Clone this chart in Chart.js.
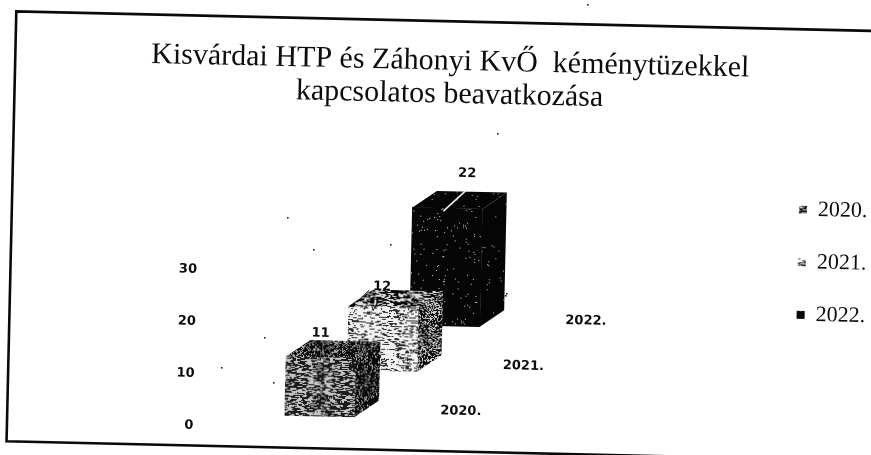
<!DOCTYPE html>
<html>
<head>
<meta charset="utf-8">
<style>html,body{margin:0;padding:0;background:#fff}#w{width:871px;height:455px}</style>
<script src="https://cdn.jsdelivr.net/npm/chart.js@4"></script>
</head>
<body>
<div id="w"><canvas id="c" width="871" height="455"></canvas></div>
<script>
const titleLines = ['Kisvárdai HTP és Záhonyi KvŐ  kéménytüzekkel', 'kapcsolatos beavatkozása'];
const years = [2020, 2021, 2022];
const seriesLabels = ['2020.', '2021.', '2022.'];
const values = [11, 12, 22];
const depthBase = [2.3, 11, 19.7];
const tickLabels = [0, 10, 20, 30];

const DEG = 1.3 * Math.PI / 180, CX = 435, CY = 228;
const DX = 24, DY = -17;
const FONT_AXIS = '"DejaVu Sans"';
const INK = '#0c0c0c';

function hash(i, j) {
  const s = Math.sin(i * 12.9898 + j * 78.233 + 0.37) * 43758.5453;
  return s - Math.floor(s);
}
// deterministic scanned-halftone tile: streak = longest run, ink = dark share
function tile(ink, streak, dark, light, seed) {
  const W = 128, H = 96;
  const cv = document.createElement('canvas');
  cv.width = W; cv.height = H;
  const g = cv.getContext('2d');
  g.fillStyle = light; g.fillRect(0, 0, W, H);
  g.fillStyle = dark;
  for (let y = 0; y < H; y++) {
    let x = 0, n = 0;
    while (x < W) {
      const run = 1 + Math.floor(hash(x + seed * 17, y * 3 + n) * streak);
      if (hash(x * 0.73 + seed, y * 1.91 + n * 5.1) < ink) g.fillRect(x, y, run, 1);
      x += run; n++;
    }
  }
  return g.createPattern(cv, 'repeat');
}
const faces = [
  { front: tile(0.55, 4, '#1a1a1a', '#c4c4c4', 1), side: tile(0.80, 1, '#0a0a0a', '#bdbdbd', 2), top: tile(0.72, 1, '#0a0a0a', '#b5b5b5', 3) },
  { front: tile(0.30, 4, '#2a2a2a', '#f2f2f2', 4), side: tile(0.62, 1, '#0a0a0a', '#d4d4d4', 5), top: tile(0.52, 4, '#0a0a0a', '#dcdcdc', 6) },
  { front: tile(0.985, 1, '#060606', '#d0d0d0', 7), side: tile(0.995, 1, '#050505', '#c0c0c0', 8), top: tile(0.99, 1, '#050505', '#c0c0c0', 9) }
];
const specks = [[587,4],[497,133],[287,217],[313,249],[390,244],[264,337],[273,382],[221,367],[505,295],[506,293]];

const scene = {
  id: 'scene',
  afterLayout(chart) {
    const l = chart.legend;
    const w = l.right - l.left, h = l.bottom - l.top;
    l.left = 768; l.right = 768 + w; l.top = 160; l.bottom = 160 + h;
  },
  beforeDraw(chart) {
    const c = chart.ctx;
    c.save();
    c.fillStyle = '#fff';
    c.fillRect(0, 0, chart.width, chart.height);
    c.translate(CX, CY); c.rotate(DEG); c.translate(-CX, -CY);
    c.strokeStyle = '#0a0a0a';
    c.lineWidth = 2.6;
    c.beginPath();
    c.moveTo(900, 21); c.lineTo(11.5, 21); c.lineTo(11.5, 451); c.lineTo(900, 451);
    c.stroke();
  },
  afterDatasetDraw(chart, args) {
    const el = args.meta.data[0], f = faces[args.index], c = chart.ctx;
    const r = el.x + el.width / 2, l = el.x - el.width / 2, t = el.y, b = el.base;
    c.save();
    c.fillStyle = f.side;
    c.beginPath();
    c.moveTo(r, t); c.lineTo(r + DX, t + DY); c.lineTo(r + DX, b + DY); c.lineTo(r, b);
    c.closePath(); c.fill();
    c.fillStyle = f.top;
    c.beginPath();
    c.moveTo(l, t); c.lineTo(l + DX, t + DY); c.lineTo(r + DX, t + DY); c.lineTo(r, t);
    c.closePath(); c.fill();
    c.restore();
  },
  afterDraw(chart) {
    const c = chart.ctx;
    const valueOffset = [[-1, -24], [-2, -20], [19, -35]];
    c.fillStyle = INK;
    c.font = 'bold 13px ' + FONT_AXIS;
    c.textAlign = 'center';
    c.textBaseline = 'middle';
    chart.data.datasets.forEach((d, i) => {
      const el = chart.getDatasetMeta(i).data[0];
      c.fillText(String(values[i]), el.x + valueOffset[i][0], el.y + valueOffset[i][1]);
      c.fillText(seriesLabels[i], el.x + 141, el.base - 8);
    });
    const e3 = chart.getDatasetMeta(2).data[0];
    c.strokeStyle = '#eee';
    c.lineWidth = 1.6;
    c.beginPath();
    c.moveTo(e3.x + 18, e3.y - 18);
    c.lineTo(e3.x - 4, e3.y + 3);
    c.stroke();
    const e2 = chart.getDatasetMeta(1).data[0];
    c.strokeStyle = '#222';
    c.lineWidth = 1;
    c.beginPath();
    c.moveTo(e2.x - 15, e2.y - 16);
    c.lineTo(e2.x - 25, e2.y - 6);
    c.stroke();
    c.restore();
    c.fillStyle = '#222';
    specks.forEach(p => c.fillRect(p[0], p[1], 1.6, 1.6));
  }
};

new Chart(document.getElementById('c'), {
  type: 'bar',
  plugins: [scene],
  data: {
    datasets: years.map((yr, i) => ({
      label: seriesLabels[i],
      data: [{ x: yr, y: [depthBase[i], depthBase[i] + values[i]] }],
      backgroundColor: faces[i].front,
      borderWidth: 0,
      barThickness: 70,
      grouped: false,
      yAxisID: 'yBar'
    }))
  },
  options: {
    responsive: false,
    animation: false,
    layout: { padding: { left: 22, top: 0, right: 0, bottom: 24 } },
    plugins: {
      tooltip: { enabled: false },
      title: {
        display: true,
        text: titleLines,
        color: INK,
        font: { family: '"Liberation Serif"', size: 30, weight: 'normal', lineHeight: 33 / 30 },
        padding: { top: 45, bottom: 0 }
      },
      legend: {
        display: true,
        position: 'chartArea',
        align: 'start',
        labels: {
          color: INK,
          boxWidth: 8, boxHeight: 8,
          padding: 30.5,
          font: { family: '"Liberation Serif"', size: 22 }
        }
      }
    },
    scales: {
      x: { type: 'linear', display: false, min: 2018, max: 2018 + 670 / 61.5, offset: false },
      y: {
        type: 'linear', position: 'left',
        min: 0, max: 320 / 5.2,
        grid: { display: false, drawTicks: false },
        border: { display: false },
        afterBuildTicks(a) { a.ticks = tickLabels.map(v => ({ value: v })); },
        afterFit(a) { a.width = 179; },
        ticks: { padding: 3, color: INK, autoSkip: false, maxRotation: 0, font: { family: FONT_AXIS, size: 13, weight: 'bold' } }
      },
      yBar: { type: 'linear', display: false, position: 'left', min: 0, max: 320 / 5.35 }
    }
  }
});
</script>
</body>
</html>
